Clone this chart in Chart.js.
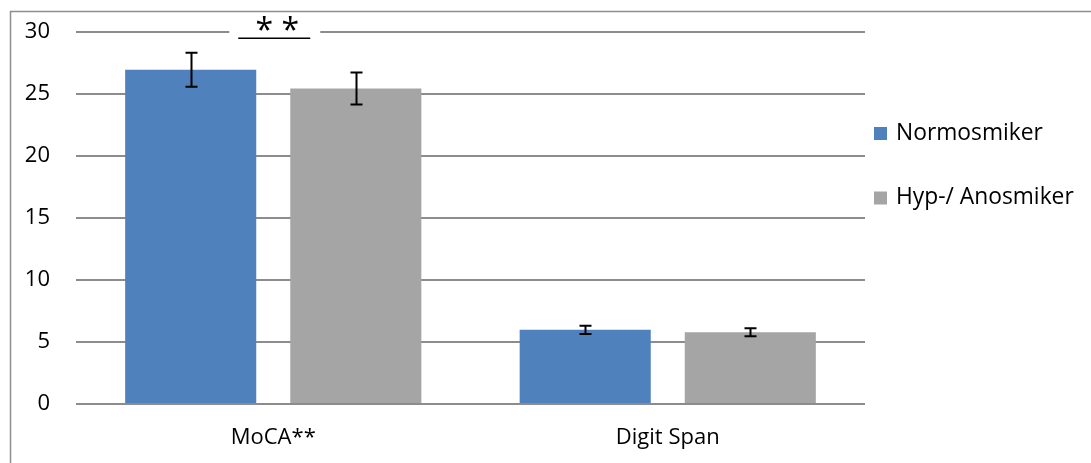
<!DOCTYPE html>
<html>
<head>
<meta charset="utf-8">
<script src="https://cdn.jsdelivr.net/npm/chart.js@4.4.1/dist/chart.umd.min.js"></script>
<style>
  html, body { margin: 0; padding: 0; background: #fff; }
  #wrap { width: 1091px; height: 463px; position: relative; }
</style>
</head>
<body>
<div id="wrap"><canvas id="c" width="1091" height="463"></canvas></div>
<script>
// Test categories and group labels
const categories = ['MoCA**', 'Digit Span'];
const seriesNames = ['Normosmiker', 'Hyp-/ Anosmiker'];

// Group means
const normosmikerMeans = [26.95, 5.98];
const hypAnosmikerMeans = [25.45, 5.79];

// Standard deviations (error bars)
const normosmikerErr = [1.37, 0.33];
const hypAnosmikerErr = [1.29, 0.32];

// Y-axis ticks
const yTicks = [0, 5, 10, 15, 20, 25, 30];

// Significance marker over the first category
const sigCategoryIndex = 0;
const sigText = '* *';
const sigLevel = 29.5;

const FONT = "'Open Sans', 'Noto Sans', sans-serif";

// Outer frame (left and top rule)
const framePlugin = {
  id: 'frame',
  beforeDraw(chart) {
    const ctx = chart.ctx;
    ctx.save();
    ctx.fillStyle = '#fff';
    ctx.fillRect(0, 0, chart.width, chart.height);
    ctx.strokeStyle = '#8f8f8f';
    ctx.lineWidth = 1.5;
    ctx.beginPath();
    ctx.moveTo(10.5, chart.height);
    ctx.lineTo(10.5, 11.5);
    ctx.lineTo(chart.width, 11.5);
    ctx.stroke();
    ctx.restore();
  }
};

// Error bars drawn from each dataset's errors array
const errorBarPlugin = {
  id: 'errorBars',
  afterDatasetsDraw(chart) {
    const ctx = chart.ctx;
    const y = chart.scales.y;
    ctx.save();
    ctx.strokeStyle = '#000';
    ctx.lineWidth = 2;
    chart.data.datasets.forEach((ds, di) => {
      const meta = chart.getDatasetMeta(di);
      meta.data.forEach((bar, i) => {
        const v = ds.data[i];
        const e = ds.errors[i];
        const yTop = y.getPixelForValue(v + e);
        const yBot = y.getPixelForValue(v - e);
        const x = Math.round(bar.x) + 0.5;
        ctx.beginPath();
        ctx.moveTo(x, yTop); ctx.lineTo(x, yBot);
        ctx.moveTo(x - 6, yTop); ctx.lineTo(x + 6, yTop);
        ctx.moveTo(x - 6, yBot); ctx.lineTo(x + 6, yBot);
        ctx.stroke();
      });
    });
    ctx.restore();
  }
};

// Significance bracket and stars
const sigPlugin = {
  id: 'significance',
  afterDraw(chart) {
    const ctx = chart.ctx;
    const xs = chart.scales.x, ys = chart.scales.y;
    const cx = xs.getPixelForValue(sigCategoryIndex);
    const yTopGrid = ys.getPixelForValue(30);
    const yLine = ys.getPixelForValue(sigLevel);
    ctx.save();
    ctx.fillStyle = '#fff';
    ctx.fillRect(cx - 44, yTopGrid - 8, 91, 10);
    ctx.strokeStyle = '#000';
    ctx.lineWidth = 1.5;
    ctx.beginPath();
    ctx.moveTo(cx - 35, yLine);
    ctx.lineTo(cx + 37, yLine);
    ctx.stroke();
    ctx.fillStyle = '#000';
    ctx.font = '500 32px ' + FONT;
    ctx.textAlign = 'center';
    ctx.textBaseline = 'middle';
    ctx.fillText(sigText, cx + 4, yTopGrid);
    ctx.restore();
  }
};

// Legend on the right
const legendPlugin = {
  id: 'sideLegend',
  afterDraw(chart) {
    const ctx = chart.ctx;
    const rows = [133.5, 198];
    ctx.save();
    ctx.font = '22.8px ' + FONT;
    ctx.textBaseline = 'middle';
    ctx.textAlign = 'left';
    chart.data.datasets.forEach((ds, i) => {
      ctx.fillStyle = ds.backgroundColor;
      ctx.fillRect(874, rows[i] - 6.5, 13, 13);
      ctx.fillStyle = '#000';
      ctx.fillText(ds.label, 896, rows[i]);
    });
    ctx.restore();
  }
};

new Chart(document.getElementById('c'), {
  type: 'bar',
  data: {
    labels: categories,
    datasets: [
      { label: seriesNames[0], data: normosmikerMeans, errors: normosmikerErr,
        backgroundColor: '#4F81BD' },
      { label: seriesNames[1], data: hypAnosmikerMeans, errors: hypAnosmikerErr,
        backgroundColor: '#A5A5A5' }
    ]
  },
  options: {
    responsive: false,
    animation: false,
    events: [],
    categoryPercentage: 0.837,
    barPercentage: 0.794,
    layout: { padding: { left: 0, top: 32, right: 226, bottom: 0 } },
    plugins: {
      legend: { display: false },
      tooltip: { enabled: false }
    },
    scales: {
      x: {
        grid: { display: false, drawTicks: false },
        border: { display: false },
        ticks: { color: '#000', font: { family: FONT, size: 22 }, padding: 21 },
        afterFit(s) { s.height = 59; s.paddingLeft = 0; s.paddingRight = 0; }
      },
      y: {
        min: 0, max: 30,
        afterBuildTicks(s) { s.ticks = yTicks.map(v => ({ value: v })); },
        grid: { color: '#8c8c8c', lineWidth: 2, drawTicks: false },
        border: { display: false },
        ticks: { color: '#000', font: { family: FONT, size: 22 }, padding: 26 },
        afterFit(s) { s.width = 76; s.paddingTop = 0; s.paddingBottom = 0; }
      }
    }
  },
  plugins: [framePlugin, errorBarPlugin, sigPlugin, legendPlugin]
});
</script>
</body>
</html>
